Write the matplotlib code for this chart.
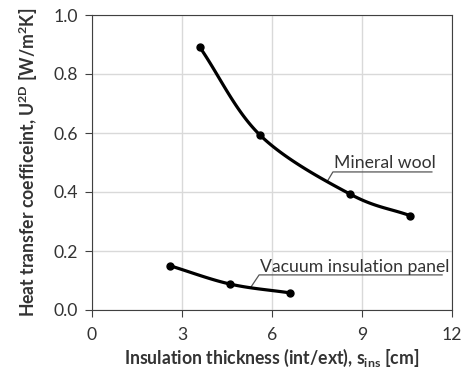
import numpy as np
import matplotlib
matplotlib.use("Agg")
import matplotlib.pyplot as plt

plt.rcParams['font.family'] = ['Lato', 'DejaVu Sans']
plt.rcParams['mathtext.fontset'] = 'custom'
plt.rcParams['mathtext.rm'] = 'Lato:bold'
plt.rcParams['mathtext.it'] = 'Lato:bold'
plt.rcParams['mathtext.bf'] = 'Lato:bold'

mw_x = [3.6, 5.6, 8.6, 10.6]
mw_y = [0.89, 0.593, 0.393, 0.32]
vip_x = [2.6, 4.6, 6.6]
vip_y = [0.15, 0.088, 0.058]
xticks = [0, 3, 6, 9, 12]
yticks = [0.0, 0.2, 0.4, 0.6, 0.8, 1.0]


def smooth(x, y, n=40):
    # Catmull-Rom style smoothing through the given points
    x = np.asarray(x, float); y = np.asarray(y, float)
    px = np.concatenate([[2 * x[0] - x[1]], x, [2 * x[-1] - x[-2]]])
    py = np.concatenate([[2 * y[0] - y[1]], y, [2 * y[-1] - y[-2]]])
    xs, ys = [], []
    t = np.linspace(0, 1, n)
    for i in range(1, len(px) - 2):
        for arr, out in ((px, xs), (py, ys)):
            p0, p1, p2, p3 = arr[i - 1:i + 3]
            out.extend(0.5 * ((2 * p1) + (-p0 + p2) * t +
                              (2 * p0 - 5 * p1 + 4 * p2 - p3) * t ** 2 +
                              (-p0 + 3 * p1 - 3 * p2 + p3) * t ** 3))
    return np.array(xs), np.array(ys)


fig = plt.figure(figsize=(4.65, 3.68), dpi=100)
ax = fig.add_axes([92 / 465, 58 / 368, 360 / 465, 295 / 368])

for xs, ys in ((mw_x, mw_y), (vip_x, vip_y)):
    sx, sy = smooth(xs, ys)
    ax.plot(sx, sy, color='black', lw=2.3, solid_capstyle='round', zorder=3)
    ax.plot(xs, ys, 'o', color='black', ms=5, zorder=4)

ax.set_xlim(0, 12)
ax.set_ylim(0, 1.0)
ax.set_xticks(xticks)
ax.set_yticks(yticks)
ax.set_yticklabels([f"{v:.1f}" for v in yticks])
ax.grid(True, color='#d9d9d9', lw=1)
ax.set_axisbelow(True)
for s in ax.spines.values():
    s.set_color('#404040')
ax.tick_params(direction='out', length=5, colors='#404040', labelsize=12.7,
               labelcolor='#333333')
ax.tick_params(axis='x', pad=7)
ax.tick_params(axis='y', pad=5)
ax.set_xlabel(r"Insulation thickness (int/ext), s$_{ins}$ [cm]",
              fontsize=12.7, fontweight='bold', color='#333333', labelpad=3)
ax.set_ylabel(r"Heat transfer coefficeint, U$^{2D}$ [W/m$^{2}$K]",
              fontsize=12.7, fontweight='bold', color='#333333', labelpad=10)

# labels with leader lines
ax.text(8.07, 0.498, "Mineral wool", fontsize=12.7, color='#333333',
        ha='left', va='center')
ax.plot([11.33, 8.03, 7.83], [0.468, 0.468, 0.434], color='#555555', lw=0.9)
ax.text(5.6, 0.146, "Vacuum insulation panel", fontsize=12.7, color='#333333',
        ha='left', va='center')
ax.plot([11.67, 5.57, 5.3], [0.119, 0.119, 0.078], color='#555555', lw=0.9)

fig.savefig("out.png", dpi=100)
